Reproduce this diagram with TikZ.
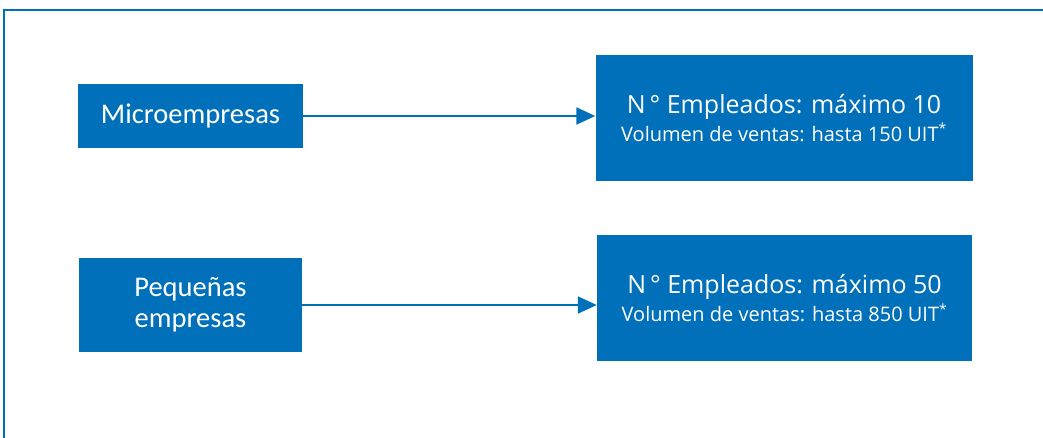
\documentclass[tikz,border=0pt]{standalone}
\usepackage{fontspec}
\setmainfont{Carlito}
\newfontfamily\datafont{Open Sans}
\usetikzlibrary{arrows.meta}
\definecolor{azul}{HTML}{0070BA}

\begin{document}
\begin{tikzpicture}
    [x=1pt,y=-1pt,
     tipo/.style={fill=azul,text=white,inner sep=0pt,align=center,
       font=\fontsize{28.5}{31}\selectfont},
     dato/.style={fill=azul,text=white,inner sep=0pt,align=center,
       font=\datafont},
     flecha/.style={draw=azul,line width=2pt,-{Triangle[length=19pt,width=17pt]}}]
    \useasboundingbox (0,0) rectangle (1043,437);
    \clip (0,0) rectangle (1043,437);
    % marco
    \draw[azul,line width=1.5pt] (4,10) rectangle (1080,480);
    % categorias
    \node[tipo,minimum width=225pt,minimum height=64pt] (micro) at (190.5,116) {Microempresas};
    \node[tipo,minimum width=223pt,minimum height=94pt] (pequena) at (190.5,305) {Pequeñas\\empresas};
    % limites
    \node[dato,minimum width=377pt,minimum height=126pt] (microdat) at (784,118)
      {{\fontsize{25}{30}\selectfont N\kern4pt\textdegree\ Empleados: máximo 10}\\[3pt]
       {\fontsize{20}{22}\selectfont Volumen de ventas: hasta 150 UIT\textsuperscript{*}}};
    \node[dato,minimum width=375pt,minimum height=126pt] (pequedat) at (784.5,298)
      {{\fontsize{25}{30}\selectfont N\kern4pt\textdegree\ Empleados: máximo 50}\\[3pt]
       {\fontsize{20}{22}\selectfont Volumen de ventas: hasta 850 UIT\textsuperscript{*}}};
    \draw[flecha] (micro.east) -- (micro.east -| microdat.west);
    \draw[flecha] (pequena.east) -- (pequena.east -| pequedat.west);
\end{tikzpicture}
\end{document}
